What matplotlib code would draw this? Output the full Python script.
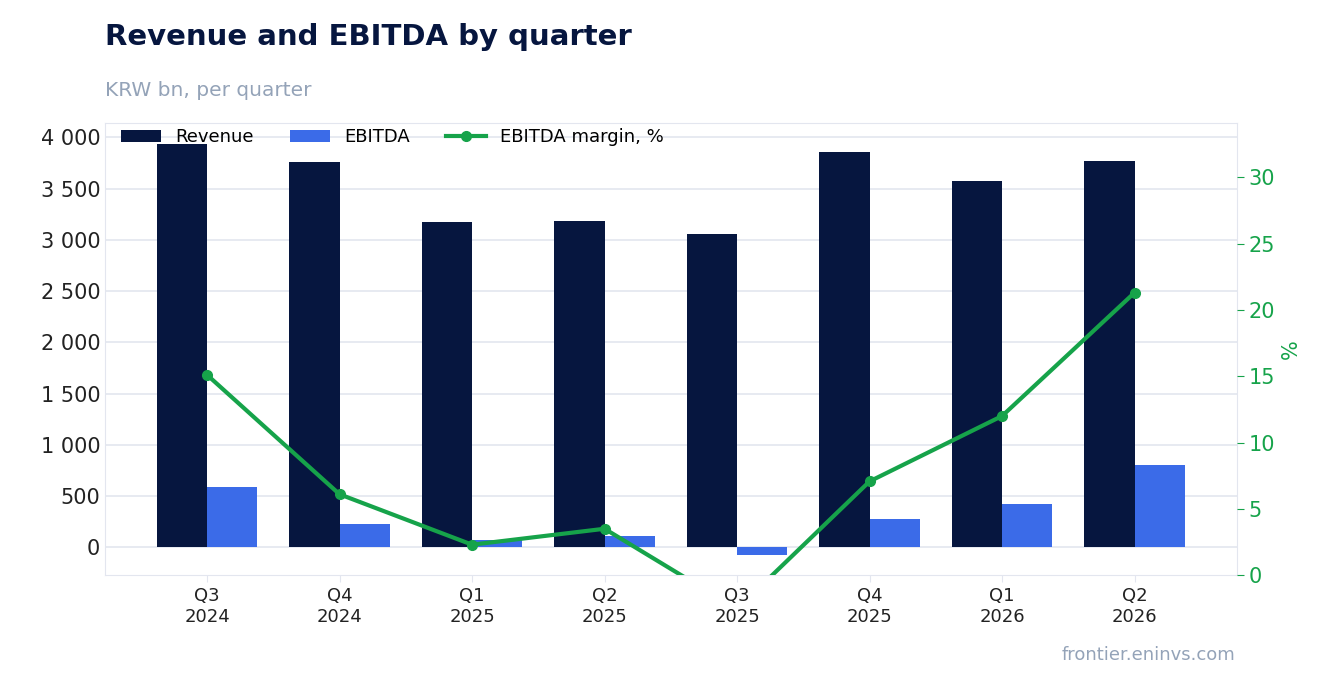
import matplotlib
matplotlib.use("Agg")
import matplotlib.pyplot as plt
import numpy as np

quarters = ["Q3\n2024", "Q4\n2024", "Q1\n2025", "Q2\n2025", "Q3\n2025", "Q4\n2025", "Q1\n2026", "Q2\n2026"]
revenue = [3932, 3756, 3171, 3180, 3054, 3854, 3571, 3766]
ebitda = [585, 224, 68, 107, -78, 273, 420, 800]
margin = [15.1, 6.1, 2.3, 3.5, -2.55, 7.07, 12.0, 21.3]

navy = "#06163f"; blue = "#3b6be8"; green = "#16a34a"; grid = "#e3e6ef"

fig = plt.figure(figsize=(13.36, 6.93), dpi=100)
ax = fig.add_axes([0.0786, 0.170, 0.847, 0.652])
x = np.arange(len(quarters))
w = 0.38
ax.bar(x - w/2, revenue, w, color=navy, label="Revenue", zorder=2)
ax.bar(x + w/2, ebitda, w, color=blue, label="EBITDA", zorder=2)
ax.set_ylim(-273, 4137)
ax.set_xlim(-0.77, 7.77)
ax.set_yticks(range(0, 4001, 500))
ax.set_yticklabels([f"{v:,}".replace(",", " ") for v in range(0, 4001, 500)])
ax.grid(axis="y", color=grid, lw=1.2, zorder=0)
ax.set_xticks(x)
ax.set_xticklabels(quarters, fontsize=13, color="#222")
ax.tick_params(axis="y", labelsize=15, length=0, colors="#222")
ax.tick_params(axis="x", length=5, color=grid)
for s in ax.spines.values():
    s.set_color(grid)

ax2 = ax.twinx()
ax2.plot(x, margin, color=green, lw=3, marker="o", ms=7, label="EBITDA margin, %", zorder=3)
ax2.set_ylim(0, 34.06)
ax2.set_yticks(range(0, 31, 5))
ax2.tick_params(axis="y", labelsize=15, colors=green, length=5)
ax2.set_ylabel("%", color=green, fontsize=15)
for s in ax2.spines.values():
    s.set_visible(False)

h1, l1 = ax.get_legend_handles_labels()
h2, l2 = ax2.get_legend_handles_labels()
ax.legend(h1 + h2, l1 + l2, loc="upper left", ncol=3, frameon=False, fontsize=13,
          bbox_to_anchor=(0.0, 1.025), handlelength=2.2, columnspacing=2.0)

fig.text(0.0786, 0.935, "Revenue and EBITDA by quarter", fontsize=21, fontweight="bold", color=navy)
fig.text(0.0786, 0.862, "KRW bn, per quarter", fontsize=14.5, color="#94a3b8")
fig.text(0.925, 0.048, "frontier.eninvs.com", fontsize=13, color="#94a3b8", ha="right")
fig.savefig("out.png", dpi=100)
